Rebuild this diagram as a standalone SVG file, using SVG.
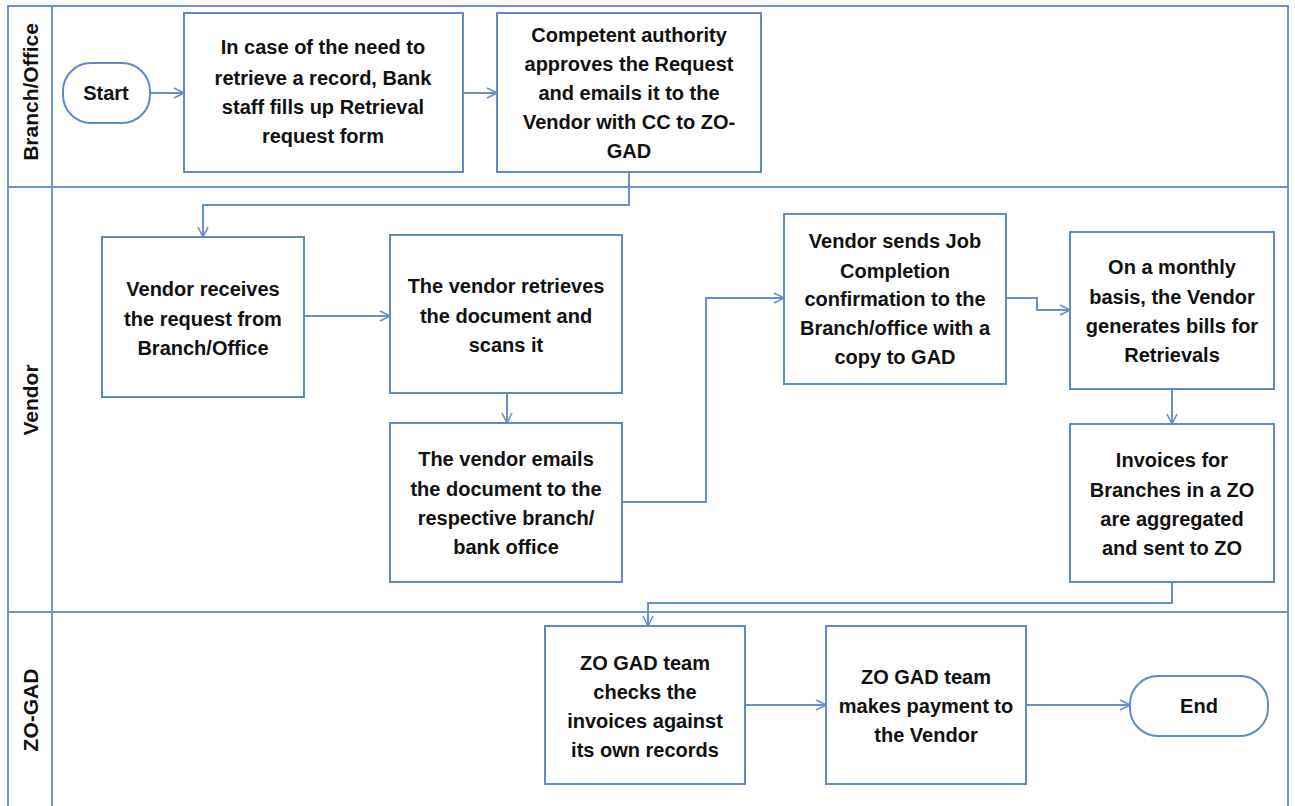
<svg xmlns="http://www.w3.org/2000/svg" width="1295" height="806" viewBox="0 0 1295 806">
<defs>
<style>
.lane{fill:none;stroke:#6f94cc;stroke-width:2}
.box{fill:#fff;stroke:#6189c6;stroke-width:2}
.t{font-family:"Liberation Sans",Arial,sans-serif;font-weight:bold;font-size:20px;fill:#111;text-anchor:middle}
.lt{font-family:"Liberation Sans",Arial,sans-serif;font-weight:bold;font-size:21px;fill:#111;text-anchor:middle}
.c{fill:none;stroke:#6a8fca;stroke-width:2;marker-end:url(#arr)}
</style>
<marker id="arr" viewBox="0 0 12 12" refX="11" refY="6" markerWidth="12" markerHeight="12" markerUnits="userSpaceOnUse" orient="auto">
<path d="M1,1 L11,6 L1,11" fill="none" stroke="#6a8fca" stroke-width="1.6"/>
</marker>
</defs>
<rect width="1295" height="806" fill="#fff"/>
<g id="lanes">
<rect class="lane" x="8" y="6" width="1280" height="820"/>
<line class="lane" x1="52" y1="6" x2="52" y2="806"/>
<line class="lane" x1="8" y1="187" x2="1288" y2="187"/>
<line class="lane" x1="8" y1="612" x2="1288" y2="612"/>
<text class="lt" transform="translate(38,92) rotate(-90)">Branch/Office</text>
<text class="lt" transform="translate(38,400) rotate(-90)">Vendor</text>
<text class="lt" transform="translate(38,710) rotate(-90)">ZO-GAD</text>
</g>
<g id="connectors">
<path class="c" d="M150,93 H184"/>
<path class="c" d="M463,93 H497"/>
<path class="c" d="M629,172 V205 H203 V237"/>
<path class="c" d="M304,316 H390"/>
<path class="c" d="M507,393 V423"/>
<path class="c" d="M622,502 H706 V298 H784"/>
<path class="c" d="M1006,298 H1037 V310 H1070"/>
<path class="c" d="M1172,389 V424"/>
<path class="c" d="M1172,582 V603 H648 V626"/>
<path class="c" d="M745,705 H826"/>
<path class="c" d="M1026,705 H1130"/>
</g>
<g id="start">
<rect class="box" x="63" y="63" width="87" height="60" rx="28"/>
<text class="t" x="106" y="100">Start</text>
</g>
<g id="n1">
<rect class="box" x="184" y="13" width="279" height="159"/>
<text class="t" x="323" y="54">In case of the need to</text>
<text class="t" x="323" y="85">retrieve a record, Bank</text>
<text class="t" x="323" y="114">staff fills up Retrieval</text>
<text class="t" x="323" y="143">request form</text>
</g>
<g id="n2">
<rect class="box" x="497" y="13" width="264" height="159"/>
<text class="t" x="629" y="42">Competent authority</text>
<text class="t" x="629" y="71">approves the Request</text>
<text class="t" x="629" y="100">and emails it to the</text>
<text class="t" x="629" y="129">Vendor with CC to ZO-</text>
<text class="t" x="629" y="158">GAD</text>
</g>
<g id="n3">
<rect class="box" x="102" y="237" width="202" height="160"/>
<text class="t" x="203" y="296">Vendor receives</text>
<text class="t" x="203" y="326">the request from</text>
<text class="t" x="203" y="355">Branch/Office</text>
</g>
<g id="n4">
<rect class="box" x="390" y="235" width="232" height="158"/>
<text class="t" x="506" y="293">The vendor retrieves</text>
<text class="t" x="506" y="323">the document and</text>
<text class="t" x="506" y="352">scans it</text>
</g>
<g id="n5">
<rect class="box" x="390" y="423" width="232" height="159"/>
<text class="t" x="506" y="466">The vendor emails</text>
<text class="t" x="506" y="496">the document to the</text>
<text class="t" x="506" y="525">respective branch/</text>
<text class="t" x="506" y="554">bank office</text>
</g>
<g id="n6">
<rect class="box" x="784" y="214" width="222" height="170"/>
<text class="t" x="895" y="248">Vendor sends Job</text>
<text class="t" x="895" y="278">Completion</text>
<text class="t" x="895" y="306">confirmation to the</text>
<text class="t" x="895" y="335">Branch/office with a</text>
<text class="t" x="895" y="364">copy to GAD</text>
</g>
<g id="n7">
<rect class="box" x="1070" y="232" width="204" height="157"/>
<text class="t" x="1172" y="274">On a monthly</text>
<text class="t" x="1172" y="304">basis, the Vendor</text>
<text class="t" x="1172" y="333">generates bills for</text>
<text class="t" x="1172" y="362">Retrievals</text>
</g>
<g id="n8">
<rect class="box" x="1070" y="424" width="204" height="158"/>
<text class="t" x="1172" y="467">Invoices for</text>
<text class="t" x="1172" y="497">Branches in a ZO</text>
<text class="t" x="1172" y="526">are aggregated</text>
<text class="t" x="1172" y="555">and sent to ZO</text>
</g>
<g id="n9">
<rect class="box" x="545" y="626" width="200" height="158"/>
<text class="t" x="645" y="670">ZO GAD team</text>
<text class="t" x="645" y="699">checks the</text>
<text class="t" x="645" y="728">invoices against</text>
<text class="t" x="645" y="757">its own records</text>
</g>
<g id="n10">
<rect class="box" x="826" y="626" width="200" height="158"/>
<text class="t" x="926" y="684">ZO GAD team</text>
<text class="t" x="926" y="713">makes payment to</text>
<text class="t" x="926" y="742">the Vendor</text>
</g>
<g id="end">
<rect class="box" x="1130" y="676" width="138" height="60" rx="28"/>
<text class="t" x="1199" y="713">End</text>
</g>
</svg>
